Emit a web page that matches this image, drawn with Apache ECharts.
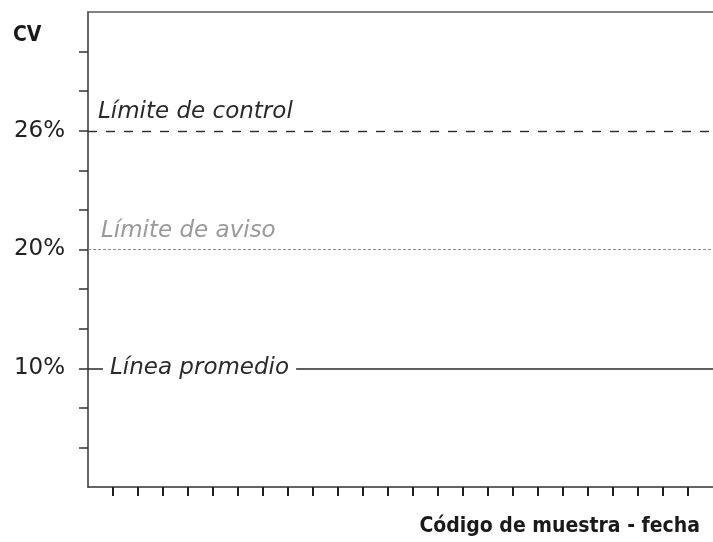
<!DOCTYPE html>
<html>
<head>
<meta charset="utf-8">
<script src="https://cdn.jsdelivr.net/npm/echarts@6/dist/echarts.min.js"></script>
<style>
html,body{margin:0;padding:0;background:#fff;}
#c{width:713px;height:542px;}
</style>
</head>
<body>
<div id="c"></div>
<script>
// ---- data ----
const yTickLabels = ['', '', '10%', '', '', '20%', '', '', '26%', '', ''];   // y ticks, bottom to top
const sampleSlots = [1, 2, 3, 4, 5, 6, 7, 8, 9, 10, 11, 12, 13, 14, 15, 16, 17, 18, 19, 20, 21, 22, 23, 24];
const lineNames = ['Límite de control', 'Límite de aviso', 'Línea promedio'];
const lineCV = ['26%', '20%', '10%'];
const yAxisTitle = 'CV';
const xAxisTitle = 'Código de muestra - fecha';

// ---- layout / style ----
const FONT = 'DejaVu Sans';
const yTickValues = yTickLabels.map((_, i) => i + 1);
const levelOf = cv => yTickLabels.indexOf(cv) + 1;

const lineStyles = [
  { color: '#2a2a2a', width: 1.4, type: [9, 9] },
  { color: '#8c8c8c', width: 1.1, type: [3, 2] },
  { color: '#2a2a2a', width: 1.5, type: 'solid' }
];
const labelStyles = [
  { position: 'insideStartTop', distance: [10, 7], color: '#2a2a2a' },
  { position: 'insideStartTop', distance: [13, 7], color: '#9a9a9a' },
  { position: 'insideStart', distance: [15, 0], color: '#2a2a2a', verticalAlign: 'middle',
    backgroundColor: '#fff', padding: [2, 7, 2, 7] }
];

const chart = echarts.init(document.getElementById('c'), null, { renderer: 'canvas' });

const series = lineNames.map((name, i) => ({
  type: 'line',
  name: name,
  data: [],
  silent: true,
  markLine: {
    silent: true,
    symbol: 'none',
    animation: false,
    lineStyle: lineStyles[i],
    label: Object.assign({
      show: true,
      formatter: name,
      fontFamily: FONT,
      fontStyle: 'italic',
      fontSize: 23
    }, labelStyles[i]),
    emphasis: { disabled: true },
    data: [{ yAxis: levelOf(lineCV[i]) }]
  }
}));

chart.setOption({
  animation: false,
  backgroundColor: '#fff',
  title: [
    { text: yAxisTitle, left: 13, top: 25, padding: 0,
      textStyle: { fontFamily: 'DejaVu Sans Condensed', fontWeight: 'bold', fontSize: 21, lineHeight: 21, color: '#1a1a1a' } },
    { text: xAxisTitle, right: 13, top: 516, padding: 0,
      textStyle: { fontFamily: 'DejaVu Sans Condensed', fontWeight: 'bold', fontSize: 21, lineHeight: 21, color: '#1a1a1a' } }
  ],
  grid: { left: 88, right: 0, top: 12, bottom: 55, containLabel: false },
  xAxis: [
    {
      type: 'value', min: 0, max: sampleSlots.length + 1, interval: 1,
      splitLine: { show: false },
      axisLine: { show: true, onZero: false, lineStyle: { color: '#333', width: 1.5 } },
      axisTick: { show: true, length: 9, inside: false, customValues: sampleSlots,
        lineStyle: { color: '#1e1e1e', width: 2 } },
      axisLabel: { show: false }
    },
    {
      type: 'value', position: 'top', min: 0, max: sampleSlots.length + 1,
      splitLine: { show: false },
      axisLine: { show: true, onZero: false, lineStyle: { color: '#5a5a5a', width: 1.5 } },
      axisTick: { show: false },
      axisLabel: { show: false }
    }
  ],
  yAxis: {
    type: 'value', min: 0, max: yTickLabels.length + 1, interval: 1,
    splitLine: { show: false },
    axisLine: { show: true, onZero: false, lineStyle: { color: '#333', width: 1.5 } },
    axisTick: { show: true, length: 9, customValues: yTickValues,
      lineStyle: { color: '#333', width: 1.5 } },
    axisLabel: {
      show: true, customValues: yTickValues, margin: 23,
      formatter: v => yTickLabels[Math.round(v) - 1] || '',
      fontFamily: FONT, fontSize: 23, color: '#222',
      padding: [0, 0, 5, 0]
    }
  },
  series: series
});
</script>
</body>
</html>
